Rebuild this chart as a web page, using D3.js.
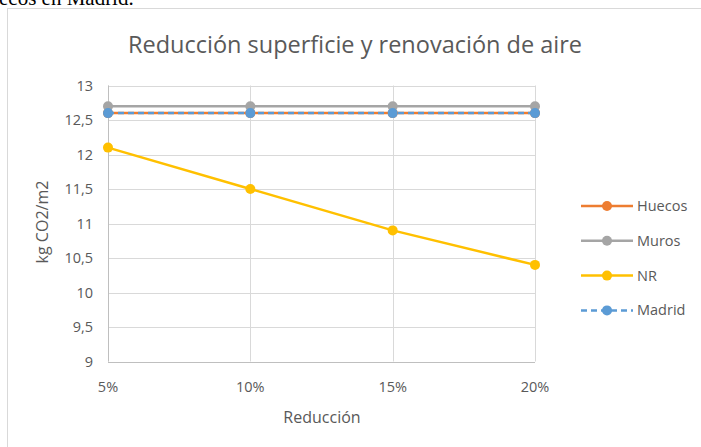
<!DOCTYPE html>
<meta charset="utf-8">
<head>
  <title>reduccion</title>
</head>
<style>
  body { margin: 0; background: #fff; }
  text { font-family: "Open Sans", "Noto Sans", sans-serif; fill: #595959; }
</style>
<body>
  <svg width="701" height="447"></svg>
  <script src="https://cdnjs.cloudflare.com/ajax/libs/d3/7.8.5/d3.min.js"></script>
  <script>
    var categories = ['5%', '10%', '15%', '20%']
    var huecos = [12.6, 12.6, 12.6, 12.6]
    var muros = [12.7, 12.7, 12.7, 12.7]
    var nr = [12.1, 11.5, 10.9, 10.4]
    var madrid = [12.6, 12.6, 12.6, 12.6]
    var yTicks = [9, 9.5, 10, 10.5, 11, 11.5, 12, 12.5, 13]

    var series = [
      { name: 'Huecos', values: huecos, color: '#ED7D31', dash: null },
      { name: 'Muros', values: muros, color: '#A5A5A5', dash: null },
      { name: 'NR', values: nr, color: '#FFC000', dash: null },
      { name: 'Madrid', values: madrid, color: '#5B9BD5', dash: '6,4' }
    ]

    var svg = d3.select('svg')

    // text from the page above the chart, cut off at the top
    svg.append('text')
      .attr('x', -1).attr('y', 5)
      .style('font-family', '"Liberation Serif", serif')
      .style('font-size', '21px')
      .style('fill', '#000')
      .text('ecos en Madrid.')

    // chart frame
    svg.append('rect')
      .attr('x', 7.5).attr('y', 8.5)
      .attr('width', 720).attr('height', 460)
      .attr('fill', '#fff').attr('stroke', '#d9d9d9')

    var x = d3.scalePoint().domain(categories).range([108, 535])
    var y = d3.scaleLinear().domain([9, 13]).range([361.5, 85.5])

    // gridlines
    svg.append('g').selectAll('line.h').data(yTicks).enter().append('line')
      .attr('x1', 108).attr('x2', 535)
      .attr('y1', function(d) { return Math.round(y(d)) + 0.5 })
      .attr('y2', function(d) { return Math.round(y(d)) + 0.5 })
      .attr('stroke', '#d9d9d9')
    svg.append('g').selectAll('line.v').data(categories).enter().append('line')
      .attr('x1', function(d) { return Math.round(x(d)) + 0.5 })
      .attr('x2', function(d) { return Math.round(x(d)) + 0.5 })
      .attr('y1', y(13)).attr('y2', y(9))
      .attr('stroke', '#d9d9d9')

    // axis lines
    svg.append('line')
      .attr('x1', 108.5).attr('x2', 108.5).attr('y1', y(13)).attr('y2', y(9))
      .attr('stroke', '#bfbfbf')
    svg.append('line')
      .attr('x1', 108).attr('x2', 535).attr('y1', Math.round(y(9)) + 0.5).attr('y2', Math.round(y(9)) + 0.5)
      .attr('stroke', '#bfbfbf')

    var fmt = function(d) { return String(d).replace('.', ',') }

    svg.append('g').selectAll('text').data(yTicks).enter().append('text')
      .attr('x', 93).attr('y', function(d) { return y(d) })
      .attr('dy', '0.35em')
      .attr('text-anchor', 'end')
      .style('font-size', '14.5px')
      .text(fmt)

    svg.append('g').selectAll('text').data(categories).enter().append('text')
      .attr('x', function(d) { return x(d) }).attr('y', 387)
      .attr('dy', '0.35em')
      .attr('text-anchor', 'middle')
      .style('font-size', '14.5px')
      .text(function(d) { return d })

    svg.append('text')
      .attr('x', 355).attr('y', 45)
      .attr('dy', '0.35em')
      .attr('text-anchor', 'middle')
      .style('font-size', '23.5px')
      .text('Reducción superficie y renovación de aire')

    svg.append('text')
      .attr('x', 322).attr('y', 417)
      .attr('dy', '0.35em')
      .attr('text-anchor', 'middle')
      .style('font-size', '16px')
      .text('Reducción')

    svg.append('text')
      .attr('transform', 'translate(42,222) rotate(-90)')
      .attr('dy', '0.35em')
      .attr('text-anchor', 'middle')
      .style('font-size', '16px')
      .text('kg CO2/m2')

    var line = d3.line()
      .x(function(d, i) { return x(categories[i]) })
      .y(function(d) { return y(d) })

    var g = svg.append('g').selectAll('g').data(series).enter().append('g')
    g.append('path')
      .attr('d', function(s) { return line(s.values) })
      .attr('fill', 'none')
      .attr('stroke', function(s) { return s.color })
      .attr('stroke-width', 2.5)
      .attr('stroke-dasharray', function(s) { return s.dash })
    g.selectAll('circle').data(function(s) { return s.values.map(function(v, i) { return { v: v, i: i, c: s.color } }) })
      .enter().append('circle')
      .attr('cx', function(d) { return x(categories[d.i]) })
      .attr('cy', function(d) { return y(d.v) })
      .attr('r', 5)
      .attr('fill', function(d) { return d.c })

    // legend
    var leg = svg.append('g').selectAll('g').data(series).enter().append('g')
      .attr('transform', function(s, i) { return 'translate(581,' + (206 + i * 34.8) + ')' })
    leg.append('line')
      .attr('x1', 0).attr('x2', 52)
      .attr('stroke', function(s) { return s.color })
      .attr('stroke-width', 2.5)
      .attr('stroke-dasharray', function(s) { return s.dash })
    leg.append('circle')
      .attr('cx', 26).attr('r', 5)
      .attr('fill', function(s) { return s.color })
    leg.append('text')
      .attr('x', 56).attr('dy', '0.35em')
      .style('font-size', '14.5px')
      .text(function(s) { return s.name })
  </script>
</body>
</html>
